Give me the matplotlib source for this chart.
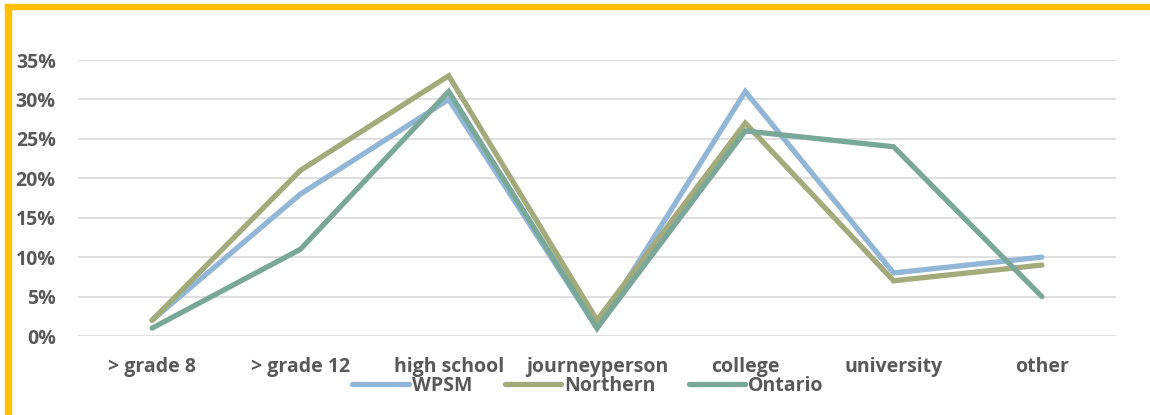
import matplotlib
matplotlib.use("Agg")
import matplotlib.pyplot as plt
from matplotlib.lines import Line2D
from matplotlib.patches import Rectangle

categories = ["> grade 8", "> grade 12", "high school", "journeyperson", "college", "university", "other"]
wpsm = [2, 18, 30, 1, 31, 8, 10]
northern = [2, 21, 33, 2, 27, 7, 9]
ontario = [1, 11, 31, 1, 26, 24, 5]
series_names = ["WPSM", "Northern", "Ontario"]
colors = ["#92b6d6", "#a3aa7b", "#79a898"]
yticks = [0, 5, 10, 15, 20, 25, 30, 35]
ytick_labels = [f"{v}%" for v in yticks]

plt.rcParams['font.family'] = ['Open Sans', 'DejaVu Sans']
txt = "#595959"
fs = 14

fig = plt.figure(figsize=(11.5, 4.15), dpi=100)
ax = fig.add_axes([78/1150, 1-336/415, (1116-78)/1150, (336-60)/415])

x = list(range(len(categories)))
for vals, c, n in zip([wpsm, northern, ontario], colors, series_names):
    ax.plot(x, vals, color=c, lw=3.8, solid_capstyle='round', solid_joinstyle='miter', label=n)

ax.set_xlim(-0.5, len(categories) - 0.5)
ax.set_ylim(0, 35)
ax.set_yticks(yticks)
ax.set_yticklabels(ytick_labels)
ax.set_xticks(x)
ax.set_xticklabels(categories)
ax.grid(axis='y', color='#d9d9d9', lw=1.2)
ax.set_axisbelow(True)
for s in ax.spines.values():
    s.set_visible(False)
ax.tick_params(length=0, labelsize=fs, labelcolor=txt)
ax.tick_params(axis='y', pad=16)
ax.tick_params(axis='x', pad=15)
for lab in ax.get_xticklabels() + ax.get_yticklabels():
    lab.set_fontweight('bold')

handles = [Line2D([0], [0], color=c, lw=3.8, solid_capstyle='round') for c in colors]
leg = fig.legend(handles, series_names, loc='center', bbox_to_anchor=(588/1150, 1-386/415),
                 ncol=3, frameon=False, handlelength=2.9, handletextpad=0.15, columnspacing=1.7,
                 prop={'weight': 'bold', 'size': fs})
for t in leg.get_texts():
    t.set_color(txt)

# orange border top and left
fig.patches.append(Rectangle((5/1150, 0), 6/1150, 1 - 4/415, transform=fig.transFigure,
                             color="#ffc000", zorder=10))
fig.patches.append(Rectangle((5/1150, 1 - 9/415), 1 - 5/1150, 5/415, transform=fig.transFigure,
                             color="#ffc000", zorder=10))

fig.savefig("out.png", dpi=100)
